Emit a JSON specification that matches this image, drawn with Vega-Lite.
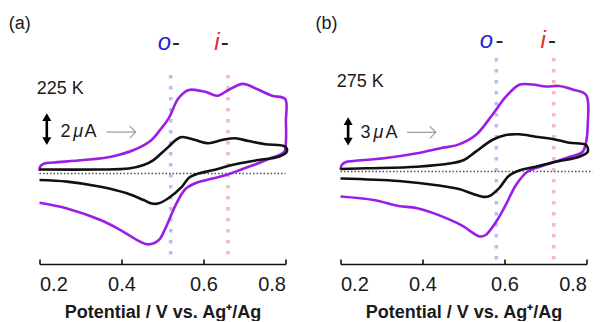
{
  "$schema": "https://vega.github.io/schema/vega-lite/v6.json",
  "background": "white",
  "padding": {"left": 8.5, "right": 0, "top": 4, "bottom": 0},
  "bounds": "flush",
  "spacing": 55,
  "config": {
    "view": {"stroke": null},
    "font": "Liberation Sans",
    "axis": {
      "domainColor": "#111", "domainWidth": 1.6,
      "tickColor": "#111", "tickWidth": 1.6, "tickSize": -5,
      "labelFont": "Liberation Sans", "labelFontSize": 20, "labelColor": "#1a1a1a", "labelPadding": 15,
      "titleFont": "Liberation Sans", "titleFontSize": 18, "titleFontWeight": "bold", "titleColor": "#1a1a1a", "titlePadding": 9,
      "grid": false
    }
  },
  "datasets": {
    "a_cv": [
      {"s":"P","k":0,"v":0.200,"i":0.16},{"s":"P","k":1,"v":0.202,"i":0.45},{"s":"P","k":2,"v":0.212,"i":0.63},{"s":"P","k":3,"v":0.235,"i":0.69},
      {"s":"P","k":4,"v":0.308,"i":0.84},{"s":"P","k":5,"v":0.374,"i":1.05},{"s":"P","k":6,"v":0.430,"i":1.47},{"s":"P","k":7,"v":0.471,"i":2.05},
      {"s":"P","k":8,"v":0.495,"i":2.75},{"s":"P","k":9,"v":0.515,"i":3.45},{"s":"P","k":10,"v":0.539,"i":4.70},{"s":"P","k":11,"v":0.564,"i":5.22},
      {"s":"P","k":12,"v":0.604,"i":5.11},{"s":"P","k":13,"v":0.634,"i":4.86},{"s":"P","k":14,"v":0.661,"i":5.22},{"s":"P","k":15,"v":0.696,"i":5.60},
      {"s":"P","k":16,"v":0.726,"i":5.33},{"s":"P","k":17,"v":0.767,"i":4.86},{"s":"P","k":18,"v":0.799,"i":4.66},{"s":"P","k":19,"v":0.801,"i":3.30},
      {"s":"P","k":20,"v":0.801,"i":1.97},{"s":"P","k":21,"v":0.797,"i":1.35},{"s":"P","k":22,"v":0.759,"i":0.91},{"s":"P","k":23,"v":0.722,"i":0.53},
      {"s":"P","k":24,"v":0.686,"i":0.19},{"s":"P","k":25,"v":0.666,"i":0.00},{"s":"P","k":26,"v":0.637,"i":-0.22},{"s":"P","k":27,"v":0.612,"i":-0.38},
      {"s":"P","k":28,"v":0.581,"i":-0.59},{"s":"P","k":29,"v":0.556,"i":-0.97},{"s":"P","k":30,"v":0.532,"i":-1.97},{"s":"P","k":31,"v":0.507,"i":-3.43},
      {"s":"P","k":32,"v":0.491,"i":-4.16},{"s":"P","k":33,"v":0.466,"i":-4.43},{"s":"P","k":34,"v":0.438,"i":-4.16},{"s":"P","k":35,"v":0.397,"i":-3.53},
      {"s":"P","k":36,"v":0.349,"i":-2.91},{"s":"P","k":37,"v":0.267,"i":-2.18},{"s":"P","k":38,"v":0.200,"i":-1.83},
      {"s":"B","k":0,"v":0.200,"i":0.25},{"s":"B","k":1,"v":0.344,"i":0.25},{"s":"B","k":2,"v":0.418,"i":0.31},{"s":"B","k":3,"v":0.454,"i":0.53},
      {"s":"B","k":4,"v":0.478,"i":0.84},{"s":"B","k":5,"v":0.498,"i":1.28},{"s":"B","k":6,"v":0.515,"i":1.68},{"s":"B","k":7,"v":0.532,"i":2.09},
      {"s":"B","k":8,"v":0.547,"i":2.28},{"s":"B","k":9,"v":0.580,"i":2.09},{"s":"B","k":10,"v":0.612,"i":1.89},{"s":"B","k":11,"v":0.645,"i":2.09},
      {"s":"B","k":12,"v":0.677,"i":2.20},{"s":"B","k":13,"v":0.710,"i":2.03},{"s":"B","k":14,"v":0.751,"i":1.83},{"s":"B","k":15,"v":0.799,"i":1.68},
      {"s":"B","k":16,"v":0.803,"i":1.36},{"s":"B","k":17,"v":0.783,"i":1.05},{"s":"B","k":18,"v":0.734,"i":0.84},{"s":"B","k":19,"v":0.669,"i":0.53},
      {"s":"B","k":20,"v":0.625,"i":0.22},{"s":"B","k":21,"v":0.588,"i":0.00},{"s":"B","k":22,"v":0.564,"i":-0.28},{"s":"B","k":23,"v":0.547,"i":-0.84},
      {"s":"B","k":24,"v":0.515,"i":-1.53},{"s":"B","k":25,"v":0.491,"i":-1.86},{"s":"B","k":26,"v":0.474,"i":-1.88},{"s":"B","k":27,"v":0.454,"i":-1.66},
      {"s":"B","k":28,"v":0.413,"i":-1.24},{"s":"B","k":29,"v":0.349,"i":-0.83},{"s":"B","k":30,"v":0.267,"i":-0.51},{"s":"B","k":31,"v":0.200,"i":-0.41}
    ],
    "b_cv": [
      {"s":"P","k":0,"v":0.200,"i":0.15},{"s":"P","k":1,"v":0.203,"i":0.63},{"s":"P","k":2,"v":0.213,"i":0.92},{"s":"P","k":3,"v":0.232,"i":1.02},
      {"s":"P","k":4,"v":0.306,"i":1.28},{"s":"P","k":5,"v":0.387,"i":1.76},{"s":"P","k":6,"v":0.444,"i":2.25},{"s":"P","k":7,"v":0.487,"i":2.60},
      {"s":"P","k":8,"v":0.530,"i":3.53},{"s":"P","k":9,"v":0.570,"i":5.47},{"s":"P","k":10,"v":0.603,"i":7.22},{"s":"P","k":11,"v":0.636,"i":8.40},
      {"s":"P","k":12,"v":0.668,"i":8.42},{"s":"P","k":13,"v":0.701,"i":8.23},{"s":"P","k":14,"v":0.733,"i":8.28},{"s":"P","k":15,"v":0.766,"i":7.94},
      {"s":"P","k":16,"v":0.799,"i":7.41},{"s":"P","k":17,"v":0.803,"i":4.50},{"s":"P","k":18,"v":0.799,"i":2.86},{"s":"P","k":19,"v":0.790,"i":1.89},
      {"s":"P","k":20,"v":0.758,"i":1.40},{"s":"P","k":21,"v":0.717,"i":0.87},{"s":"P","k":22,"v":0.684,"i":0.44},{"s":"P","k":23,"v":0.655,"i":-0.05},
      {"s":"P","k":24,"v":0.628,"i":-1.31},{"s":"P","k":25,"v":0.603,"i":-3.24},{"s":"P","k":26,"v":0.579,"i":-4.89},{"s":"P","k":27,"v":0.554,"i":-6.15},
      {"s":"P","k":28,"v":0.540,"i":-6.29},{"s":"P","k":29,"v":0.522,"i":-5.92},{"s":"P","k":30,"v":0.501,"i":-5.34},{"s":"P","k":31,"v":0.465,"i":-4.63},
      {"s":"P","k":32,"v":0.387,"i":-3.56},{"s":"P","k":33,"v":0.342,"i":-3.34},{"s":"P","k":34,"v":0.281,"i":-2.76},{"s":"P","k":35,"v":0.200,"i":-2.42},
      {"s":"B","k":0,"v":0.200,"i":0.24},{"s":"B","k":1,"v":0.265,"i":0.31},{"s":"B","k":2,"v":0.387,"i":0.46},{"s":"B","k":3,"v":0.469,"i":0.79},
      {"s":"B","k":4,"v":0.501,"i":1.11},{"s":"B","k":5,"v":0.530,"i":1.92},{"s":"B","k":6,"v":0.570,"i":3.05},{"s":"B","k":7,"v":0.603,"i":3.53},
      {"s":"B","k":8,"v":0.636,"i":3.60},{"s":"B","k":9,"v":0.676,"i":3.37},{"s":"B","k":10,"v":0.717,"i":3.15},{"s":"B","k":11,"v":0.758,"i":2.79},
      {"s":"B","k":12,"v":0.799,"i":2.57},{"s":"B","k":13,"v":0.803,"i":1.92},{"s":"B","k":14,"v":0.782,"i":1.43},{"s":"B","k":15,"v":0.725,"i":0.95},
      {"s":"B","k":16,"v":0.676,"i":0.46},{"s":"B","k":17,"v":0.636,"i":0.10},{"s":"B","k":18,"v":0.611,"i":-0.40},{"s":"B","k":19,"v":0.587,"i":-1.61},
      {"s":"B","k":20,"v":0.562,"i":-2.40},{"s":"B","k":21,"v":0.546,"i":-2.44},{"s":"B","k":22,"v":0.522,"i":-2.15},{"s":"B","k":23,"v":0.489,"i":-1.70},
      {"s":"B","k":24,"v":0.440,"i":-1.35},{"s":"B","k":25,"v":0.342,"i":-0.92},{"s":"B","k":26,"v":0.200,"i":-0.68}
    ],
    "a_guide": [
      {"kind":"o","v":0.52,"i":6.16,"i2":-5.28},
      {"kind":"i","v":0.66,"i":6.16,"i2":-5.28}
    ],
    "b_guide": [
      {"kind":"o","v":0.58,"i":10.99,"i2":-8.66},
      {"kind":"i","v":0.72,"i":10.99,"i2":-8.66}
    ],
    "a_zero": [{"v":0.2,"v2":0.8,"i":0}],
    "b_zero": [{"v":0.2,"v2":0.815,"i":0}],
    "a_text": [
      {"t":"(a)","r":"plain","v":0.1252,"i":9.03},
      {"t":"225 K","r":"plain","v":0.1934,"i":4.97},
      {"t":"2","r":"plain","v":0.2512,"i":2.3},
      {"t":"μ","r":"mu","v":0.2826,"i":2.3},
      {"t":"A","r":"plain","v":0.3095,"i":2.3},
      {"t":"o","r":"o","v":0.5048,"i":7.72},
      {"t":"-","r":"dash","v":0.5330,"i":7.72},
      {"t":"i","r":"i","v":0.6327,"i":7.72},
      {"t":"-","r":"dash","v":0.6520,"i":7.72}
    ],
    "b_text": [
      {"t":"(b)","r":"plain","v":0.1389,"i":13.79},
      {"t":"275 K","r":"plain","v":0.191,"i":8.15},
      {"t":"3","r":"plain","v":0.2489,"i":3.21},
      {"t":"μ","r":"mu","v":0.2804,"i":3.21},
      {"t":"A","r":"plain","v":0.3099,"i":3.21},
      {"t":"o","r":"o","v":0.5562,"i":11.91},
      {"t":"-","r":"dash","v":0.5875,"i":11.91},
      {"t":"i","r":"i","v":0.6943,"i":11.91},
      {"t":"-","r":"dash","v":0.7157,"i":11.91}
    ],
    "a_bar": [{"v":0.2178,"i":3.53,"i2":2.03}],
    "a_head": [{"v":0.2178,"i":3.53,"d":"up"},{"v":0.2178,"i":2.03,"d":"down"}],
    "a_ptr": [{"v":0.364,"v2":0.434,"i":2.59}],
    "a_tip": [{"v":0.4346,"i":2.59}],
    "b_bar": [{"v":0.2186,"i":4.87,"i2":2.90}],
    "b_head": [{"v":0.2186,"i":4.87,"d":"up"},{"v":0.2186,"i":2.90,"d":"down"}],
    "b_ptr": [{"v":0.362,"v2":0.432,"i":3.79}],
    "b_tip": [{"v":0.4325,"i":3.79}]
  },
  "hconcat": [
    {
      "width": 246, "height": 260,
      "encoding": {
        "x": {"field":"v","type":"quantitative","scale":{"domain":[0.2,0.8],"nice":false,"zero":false},
              "axis":{"values":[0.2,0.4,0.6,0.8],"format":".1f","title":"Potential / V vs. Ag⁺/Ag"}},
        "y": {"field":"i","type":"quantitative","scale":{"domain":[-5.656,10.594],"nice":false,"zero":false},"axis":null}
      },
      "layer": [
        {"data":{"name":"a_guide"},"transform":[{"filter":"datum.kind === 'o'"}],
         "mark":{"type":"rule","color":"#b7bff6","strokeDash":[3.5,7.5],"strokeWidth":3.5},"encoding":{"y2":{"field":"i2"}}},
        {"data":{"name":"a_guide"},"transform":[{"filter":"datum.kind === 'i'"}],
         "mark":{"type":"rule","color":"#f7b9b9","strokeDash":[3.5,7.5],"strokeWidth":3.5},"encoding":{"y2":{"field":"i2"}}},
        {"data":{"name":"a_zero"},"mark":{"type":"rule","color":"#555","strokeDash":[1.5,2],"strokeWidth":1.4},"encoding":{"x2":{"field":"v2"}}},
        {"data":{"name":"a_cv"},"transform":[{"filter":"datum.s === 'P'"}],
         "mark":{"type":"line","color":"#9a1ee6","strokeWidth":2.6,"interpolate":"catmull-rom"},"encoding":{"order":{"field":"k","type":"quantitative"}}},
        {"data":{"name":"a_cv"},"transform":[{"filter":"datum.s === 'B'"}],
         "mark":{"type":"line","color":"#111","strokeWidth":2.6,"interpolate":"catmull-rom"},"encoding":{"order":{"field":"k","type":"quantitative"}}},
        {"data":{"name":"a_text"},"transform":[{"filter":"datum.r === 'plain'"}],
         "mark":{"type":"text","align":"left","baseline":"alphabetic","fontSize":18,"color":"#1a1a1a"},"encoding":{"text":{"field":"t"}}},
        {"data":{"name":"a_text"},"transform":[{"filter":"datum.r === 'mu'"}],
         "mark":{"type":"text","align":"left","baseline":"alphabetic","fontSize":18,"fontStyle":"italic","color":"#1a1a1a"},"encoding":{"text":{"field":"t"}}},
        {"data":{"name":"a_text"},"transform":[{"filter":"datum.r === 'o'"}],
         "mark":{"type":"text","align":"center","baseline":"alphabetic","fontSize":24,"fontStyle":"italic","color":"#2626d4"},"encoding":{"text":{"field":"t"}}},
        {"data":{"name":"a_text"},"transform":[{"filter":"datum.r === 'i'"}],
         "mark":{"type":"text","align":"center","baseline":"alphabetic","fontSize":24,"fontStyle":"italic","color":"#e42a2a"},"encoding":{"text":{"field":"t"}}},
        {"data":{"name":"a_text"},"transform":[{"filter":"datum.r === 'dash'"}],
         "mark":{"type":"text","align":"center","baseline":"alphabetic","fontSize":24,"color":"#222"},"encoding":{"text":{"field":"t"}}},
        {"data":{"name":"a_bar"},"mark":{"type":"rule","color":"#000","strokeWidth":2.6},"encoding":{"y2":{"field":"i2"}}},
        {"data":{"name":"a_head"},"mark":{"type":"point","filled":true,"color":"#000","size":81,"opacity":1},
         "encoding":{"shape":{"field":"d","type":"nominal","scale":{"domain":["up","down"],"range":["triangle-up","triangle-down"]},"legend":null}}},
        {"data":{"name":"a_ptr"},"mark":{"type":"rule","color":"#999","strokeWidth":1.2},"encoding":{"x2":{"field":"v2"}}},
        {"data":{"name":"a_tip"},"mark":{"type":"point","shape":"M-1,-1L0,0L-1,1","filled":false,"color":"#999","strokeWidth":1.2,"size":144,"opacity":1}}
      ]
    },
    {
      "width": 246, "height": 260,
      "encoding": {
        "x": {"field":"v","type":"quantitative","scale":{"domain":[0.2,0.8],"nice":false,"zero":false},
              "axis":{"values":[0.2,0.4,0.6,0.8],"format":".1f","title":"Potential / V vs. Ag⁺/Ag"}},
        "y": {"field":"i","type":"quantitative","scale":{"domain":[-8.954,16.215],"nice":false,"zero":false},"axis":null}
      },
      "layer": [
        {"data":{"name":"b_guide"},"transform":[{"filter":"datum.kind === 'o'"}],
         "mark":{"type":"rule","color":"#b7bff6","strokeDash":[3.5,7.5],"strokeWidth":3.5},"encoding":{"y2":{"field":"i2"}}},
        {"data":{"name":"b_guide"},"transform":[{"filter":"datum.kind === 'i'"}],
         "mark":{"type":"rule","color":"#f7b9b9","strokeDash":[3.5,7.5],"strokeWidth":3.5},"encoding":{"y2":{"field":"i2"}}},
        {"data":{"name":"b_zero"},"mark":{"type":"rule","color":"#555","strokeDash":[1.5,2],"strokeWidth":1.4},"encoding":{"x2":{"field":"v2"}}},
        {"data":{"name":"b_cv"},"transform":[{"filter":"datum.s === 'P'"}],
         "mark":{"type":"line","color":"#9a1ee6","strokeWidth":2.6,"interpolate":"catmull-rom"},"encoding":{"order":{"field":"k","type":"quantitative"}}},
        {"data":{"name":"b_cv"},"transform":[{"filter":"datum.s === 'B'"}],
         "mark":{"type":"line","color":"#111","strokeWidth":2.6,"interpolate":"catmull-rom"},"encoding":{"order":{"field":"k","type":"quantitative"}}},
        {"data":{"name":"b_text"},"transform":[{"filter":"datum.r === 'plain'"}],
         "mark":{"type":"text","align":"left","baseline":"alphabetic","fontSize":18,"color":"#1a1a1a"},"encoding":{"text":{"field":"t"}}},
        {"data":{"name":"b_text"},"transform":[{"filter":"datum.r === 'mu'"}],
         "mark":{"type":"text","align":"left","baseline":"alphabetic","fontSize":18,"fontStyle":"italic","color":"#1a1a1a"},"encoding":{"text":{"field":"t"}}},
        {"data":{"name":"b_text"},"transform":[{"filter":"datum.r === 'o'"}],
         "mark":{"type":"text","align":"center","baseline":"alphabetic","fontSize":24,"fontStyle":"italic","color":"#2626d4"},"encoding":{"text":{"field":"t"}}},
        {"data":{"name":"b_text"},"transform":[{"filter":"datum.r === 'i'"}],
         "mark":{"type":"text","align":"center","baseline":"alphabetic","fontSize":24,"fontStyle":"italic","color":"#e42a2a"},"encoding":{"text":{"field":"t"}}},
        {"data":{"name":"b_text"},"transform":[{"filter":"datum.r === 'dash'"}],
         "mark":{"type":"text","align":"center","baseline":"alphabetic","fontSize":24,"color":"#222"},"encoding":{"text":{"field":"t"}}},
        {"data":{"name":"b_bar"},"mark":{"type":"rule","color":"#000","strokeWidth":2.6},"encoding":{"y2":{"field":"i2"}}},
        {"data":{"name":"b_head"},"mark":{"type":"point","filled":true,"color":"#000","size":81,"opacity":1},
         "encoding":{"shape":{"field":"d","type":"nominal","scale":{"domain":["up","down"],"range":["triangle-up","triangle-down"]},"legend":null}}},
        {"data":{"name":"b_ptr"},"mark":{"type":"rule","color":"#999","strokeWidth":1.2},"encoding":{"x2":{"field":"v2"}}},
        {"data":{"name":"b_tip"},"mark":{"type":"point","shape":"M-1,-1L0,0L-1,1","filled":false,"color":"#999","strokeWidth":1.2,"size":144,"opacity":1}}
      ]
    }
  ]
}
